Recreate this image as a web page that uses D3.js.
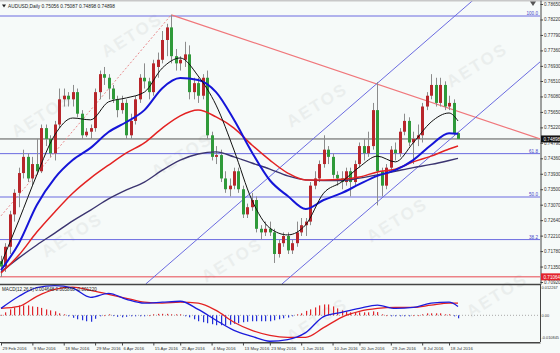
<!DOCTYPE html>
<html>
<head>
<meta charset="utf-8">
<script src="https://d3js.org/d3.v7.min.js"></script>
<style>
body { margin: 0; background: #fff; }
text { font-family: "Liberation Sans", Arial, sans-serif; }
</style>
</head>
<body>
<script>
// time axis labels and the bar they belong to (bar 0 = 29 Feb 2016)
var dateLabels = ["29 Feb 2016", "9 Mar 2016", "18 Mar 2016", "29 Mar 2016", "6 Apr 2016", "15 Apr 2016",
  "25 Apr 2016", "4 May 2016", "13 May 2016", "23 May 2016", "1 Jun 2016", "10 Jun 2016",
  "20 Jun 2016", "29 Jun 2016", "8 Jul 2016", "18 Jul 2016"];
var dateIdx = [0, 7, 14, 21, 27, 34, 40, 47, 54, 60, 67, 74, 80, 87, 94, 100];

// daily AUDUSD candles, in pips (price * 10000)
var opens = [7150,7135,7190,7280,7340,7395,7440,7380,7420,7400,
  7520,7490,7450,7530,7600,7610,7600,7620,7560,7500,
  7510,7520,7620,7670,7660,7630,7600,7570,7590,7500,
  7540,7600,7660,7650,7620,7690,7710,7765,7800,7720,
  7700,7710,7725,7620,7645,7610,7660,7500,7440,7445,
  7380,7350,7360,7400,7350,7280,7300,7320,7240,7230,
  7240,7230,7170,7200,7220,7180,7200,7230,7250,7260,
  7360,7380,7420,7460,7440,7390,7380,7370,7400,7370,
  7420,7470,7450,7470,7570,7400,7360,7410,7460,7450,
  7510,7540,7480,7490,7500,7580,7610,7640,7590,7640,
  7580,7590,7506];
var highs = [7165,7200,7290,7350,7410,7460,7450,7440,7490,7530,
  7530,7500,7540,7630,7630,7620,7640,7630,7570,7520,
  7530,7630,7680,7690,7670,7640,7610,7610,7600,7560,
  7610,7670,7700,7660,7710,7730,7790,7810,7835,7740,
  7720,7760,7750,7660,7660,7670,7680,7510,7470,7460,
  7400,7380,7410,7410,7360,7310,7340,7330,7250,7260,
  7260,7240,7210,7230,7230,7210,7260,7270,7270,7370,
  7400,7430,7500,7470,7450,7400,7400,7410,7410,7430,
  7480,7490,7510,7590,7648,7410,7420,7470,7480,7520,
  7560,7550,7510,7530,7590,7620,7670,7660,7660,7650,
  7610,7600,7509];
var lows = [7106,7120,7170,7260,7300,7380,7370,7360,7390,7395,
  7470,7440,7430,7520,7580,7580,7580,7550,7490,7495,
  7490,7510,7600,7640,7600,7590,7550,7560,7490,7490,
  7530,7590,7630,7600,7610,7660,7700,7720,7700,7680,
  7680,7690,7600,7600,7590,7600,7490,7430,7420,7370,
  7340,7330,7350,7340,7270,7270,7290,7230,7210,7220,
  7220,7145,7160,7190,7170,7170,7190,7220,7220,7250,
  7350,7370,7410,7420,7380,7360,7350,7360,7330,7360,
  7410,7430,7440,7460,7305,7330,7350,7400,7430,7440,
  7500,7470,7420,7470,7480,7570,7600,7580,7580,7570,
  7570,7500,7490];
var closes = [7135,7190,7280,7340,7395,7440,7380,7420,7400,7520,
  7490,7450,7530,7600,7610,7600,7620,7560,7500,7510,
  7520,7620,7670,7660,7630,7600,7570,7590,7500,7540,
  7600,7660,7650,7620,7700,7710,7765,7800,7720,7700,
  7710,7725,7620,7645,7610,7660,7500,7440,7445,7380,
  7350,7360,7400,7350,7280,7300,7320,7240,7230,7240,
  7230,7170,7200,7220,7180,7200,7230,7250,7260,7360,
  7380,7420,7460,7440,7390,7380,7370,7400,7370,7420,
  7470,7450,7470,7570,7400,7360,7410,7460,7450,7510,
  7540,7480,7490,7500,7580,7610,7640,7590,7640,7580,
  7590,7506,7490];

// moving averages every 4 bars (pips)
var maIdx = [0,4,8,12,16,20,24,28,32,36,40,44,48,52,56,60,64,68,72,76,80,84,88,92,96,100,102];
var maBlack = [7142,7264,7390,7501,7548,7543,7593,7604,7620,7687,7715,7665,7584,7459,7320,7242,7223,7251,7339,7370,7412,7442,7426,7479,7537,7562,7540];
var maBlue  = [7125,7200,7306,7381,7431,7465,7509,7537,7570,7631,7659,7654,7620,7543,7453,7375,7331,7295,7320,7339,7364,7387,7403,7431,7473,7506,7504];
var maRed   = [7117,7167,7231,7287,7339,7381,7417,7451,7479,7520,7554,7570,7551,7520,7473,7431,7395,7376,7376,7378,7384,7398,7406,7426,7442,7462,7470];
var maNavy  = [7120,7159,7195,7228,7262,7292,7323,7348,7370,7403,7431,7448,7454,7440,7423,7406,7387,7376,7374,7374,7381,7390,7400,7410,7419,7430,7436];

// MACD(12,26,9) in units of 0.0001, main + signal every 4 bars, histogram per bar
var macdMain   = [28,77,112,120,110,73,89,65,49,53,57,24,-20,-61,-85,-105,-98,-70,-5,12,28,41,28,32,49,53,36];
var macdSignal = [28,36,77,105,114,101,85,69,53,49,53,49,20,-28,-61,-81,-89,-89,-50,-8,16,28,32,32,41,49,49];
var macdHist = [2,12,24,32,40,40,40,36,34,30,
  24,20,16,8,4,-4,-10,-16,-20,-24,
  -26,-14,-4,0,4,-2,-6,-8,-6,-4,
  -4,-4,-4,0,4,6,6,6,4,4,
  4,-4,-8,-16,-24,-28,-32,-36,-40,-40,
  -40,-38,-34,-32,-28,-26,-24,-24,-24,-24,
  -24,-20,-16,-12,-9,-4,4,8,18,24,
  32,40,44,44,36,28,20,16,12,12,
  12,12,12,16,13,4,0,-4,-4,-4,
  -4,-4,0,0,4,8,8,8,8,4,
  4,-4,-12];

// price scale
var priceTicks = [0.78650,0.78220,0.77790,0.77360,0.76930,0.76510,0.76080,0.75650,0.75220,
  0.74790,0.74360,0.73930,0.73500,0.73070,0.72640,0.72210,0.71780,0.71350,0.70920];
var fibNames = ["100.0", "61.8", "50.0", "38.2"];
var fibPrices = [0.78317, 0.74490, 0.73284, 0.72100];
var redLevel = 0.71064;
var lastPrice = 0.74898;
var macdLabels = ["0.012267", "0.00", "-0.010845"];
var macdLabelVals = [0.012267, 0, -0.010845];

// drawn lines as [bar, price]
var redTrend = [[38, 0.7835], [120.3, 0.7490]];
var redDashed = [[0, 0.7276], [38, 0.7835]];
var channelA = [[32.3, 0.70865], [105.4, 0.7876]];
var channelB = [[62.7, 0.70865], [120.3, 0.7704]];

var W = 560, H = 353;
var svg = d3.select("body").append("svg")
  .attr("width", W)
  .attr("height", H);

svg.append("rect").attr("width", W).attr("height", H).attr("fill", "#f6faf9");

var x = d3.scaleLinear().domain([0, 120.3]).range([1, 540]);
var y = d3.scaleLinear().domain([0.70865, 0.78762]).range([284, 0]);
var yM = d3.scaleLinear().domain([-0.0108, 0.01227]).range([342, 285]);

svg.append("clipPath").attr("id", "mainClip")
  .append("rect").attr("x", 0).attr("y", 0).attr("width", 540).attr("height", 284);
svg.append("clipPath").attr("id", "macdClip")
  .append("rect").attr("x", 0).attr("y", 285).attr("width", 540).attr("height", 57);

// watermark
var marks = [[135, 40], [320, 110], [480, 70], [45, 120], [400, 225], [235, 265], [75, 240], [185, 160], [500, 300], [320, 325]];
svg.selectAll(".wm")
  .data(marks)
  .enter()
  .append("text")
    .attr("transform", function(d) { return "translate(" + d[0] + "," + d[1] + ")rotate(-32)"; })
    .attr("text-anchor", "middle")
    .style("font-size", "17px")
    .style("font-weight", "bold")
    .style("letter-spacing", "2px")
    .attr("fill", "#000")
    .attr("opacity", 0.045)
    .text("AETOS");

var main = svg.append("g").attr("clip-path", "url(#mainClip)");

// horizontal levels
main.selectAll(".fib")
  .data(fibPrices)
  .enter()
  .append("line")
    .attr("x1", 0).attr("x2", 540)
    .attr("y1", function(d) { return y(d); })
    .attr("y2", function(d) { return y(d); })
    .attr("stroke", "#6b6be0")
    .attr("stroke-width", 1);
main.append("line")
  .attr("x1", 0).attr("x2", 540)
  .attr("y1", y(redLevel)).attr("y2", y(redLevel))
  .attr("stroke", "#e8474f").attr("stroke-width", 1);
main.append("line")
  .attr("x1", 0).attr("x2", 540)
  .attr("y1", y(lastPrice)).attr("y2", y(lastPrice))
  .attr("stroke", "#555").attr("stroke-width", 1);

svg.selectAll(".fibtxt")
  .data(fibPrices)
  .enter()
  .append("text")
    .attr("x", 538)
    .attr("y", function(d) { return y(d) - 0.8; })
    .attr("text-anchor", "end")
    .style("font-size", "4.6px")
    .attr("fill", "#4646c8")
    .text(function(d, i) { return fibNames[i]; });

// trend lines
var seg = d3.line()
  .x(function(d) { return x(d[0]); })
  .y(function(d) { return y(d[1]); });
main.append("path").attr("d", seg(redTrend)).attr("fill", "none")
  .attr("stroke", "#f0777b").attr("stroke-width", 1.2);
main.append("path").attr("d", seg(redDashed)).attr("fill", "none")
  .attr("stroke", "#e98a8d").attr("stroke-width", 1).attr("stroke-dasharray", "2,2");
main.append("path").attr("d", seg(channelA)).attr("fill", "none")
  .attr("stroke", "#6b6be0").attr("stroke-width", 1);
main.append("path").attr("d", seg(channelB)).attr("fill", "none")
  .attr("stroke", "#6b6be0").attr("stroke-width", 1);

// candles
var bars = d3.range(opens.length);
main.selectAll(".wick")
  .data(bars)
  .enter()
  .append("line")
    .attr("x1", function(i) { return Math.round(x(i)) + 0.5; })
    .attr("x2", function(i) { return Math.round(x(i)) + 0.5; })
    .attr("y1", function(i) { return y(highs[i] / 10000); })
    .attr("y2", function(i) { return y(lows[i] / 10000); })
    .attr("stroke", "#8c8c8c")
    .attr("stroke-width", 1);
main.selectAll(".body")
  .data(bars)
  .enter()
  .append("rect")
    .attr("x", function(i) { return Math.round(x(i)) - 1; })
    .attr("width", 3)
    .attr("y", function(i) { return y(Math.max(opens[i], closes[i]) / 10000); })
    .attr("height", function(i) { return Math.max(1, Math.abs(y(opens[i] / 10000) - y(closes[i] / 10000))); })
    .attr("fill", function(i) { return closes[i] >= opens[i] ? "#b8262b" : "#2f9a3a"; });

// moving averages
function maLine(vals) {
  return d3.line()
    .x(function(d, i) { return x(maIdx[i]); })
    .y(function(d) { return y(d / 10000); })
    .curve(d3.curveMonotoneX)(vals);
}
main.append("path").attr("d", maLine(maNavy)).attr("fill", "none").attr("stroke", "#3b3470").attr("stroke-width", 1.4);
main.append("path").attr("d", maLine(maRed)).attr("fill", "none").attr("stroke", "#e32222").attr("stroke-width", 1.5);
main.append("path").attr("d", maLine(maBlue)).attr("fill", "none").attr("stroke", "#1515d8").attr("stroke-width", 2);
main.append("path").attr("d", maLine(maBlack)).attr("fill", "none").attr("stroke", "#111").attr("stroke-width", 1);

// MACD panel
var macd = svg.append("g").attr("clip-path", "url(#macdClip)");
macd.append("line")
  .attr("x1", 0).attr("x2", 540)
  .attr("y1", yM(0)).attr("y2", yM(0))
  .attr("stroke", "#aaa").attr("stroke-dasharray", "1,2");
macd.selectAll(".hist")
  .data(bars)
  .enter()
  .append("rect")
    .attr("x", function(i) { return Math.round(x(i)); })
    .attr("width", 1.2)
    .attr("y", function(i) { return Math.min(yM(0), yM(macdHist[i] / 10000)); })
    .attr("height", function(i) { return Math.max(0.8, Math.abs(yM(0) - yM(macdHist[i] / 10000))); })
    .attr("fill", function(i) { return macdHist[i] >= 0 ? "#e0262c" : "#2430d8"; });
function macdLine(vals) {
  return d3.line()
    .x(function(d, i) { return x(maIdx[i]); })
    .y(function(d) { return yM(d / 10000); })
    .curve(d3.curveMonotoneX)(vals);
}
macd.append("path").attr("d", macdLine(macdSignal)).attr("fill", "none").attr("stroke", "#e32222").attr("stroke-width", 1.3);
macd.append("path").attr("d", macdLine(macdMain)).attr("fill", "none").attr("stroke", "#1b1bdc").attr("stroke-width", 1.3);

// frame lines
svg.append("rect").attr("x", 0).attr("y", 0).attr("width", W).attr("height", 1.5).attr("fill", "#c8c8c8");
svg.append("line").attr("x1", 0).attr("x2", 540).attr("y1", 284.5).attr("y2", 284.5)
  .attr("stroke", "#444").attr("stroke-width", 1.6);
svg.append("line").attr("x1", 540.5).attr("x2", 540.5).attr("y1", 284).attr("y2", 342)
  .attr("stroke", "#444");

// price axis
var yAxis = svg.append("g")
  .attr("transform", "translate(540.5,0)")
  .call(d3.axisRight(y).tickValues(priceTicks).tickFormat(d3.format(".5f")).tickSize(2.5).tickSizeOuter(0));
yAxis.select(".domain").attr("stroke", "#444");
yAxis.selectAll("line").attr("stroke", "#444");
yAxis.selectAll("text").attr("x", 3.5).style("font-size", "4.6px").attr("fill", "#333").style("font-family", "Liberation Sans, Arial, sans-serif");

// price tags
function tag(val, fill) {
  svg.append("rect").attr("x", 541).attr("y", y(val) - 3.5).attr("width", 19).attr("height", 7).attr("fill", fill);
  svg.append("text").attr("x", 543.5).attr("y", y(val) + 1.7)
    .style("font-size", "4.6px").attr("fill", "#fff").text(d3.format(".5f")(val));
}
tag(lastPrice, "#111");
tag(redLevel, "#e3232c");

// MACD scale labels
svg.selectAll(".mtxt")
  .data(macdLabelVals)
  .enter()
  .append("text")
    .attr("x", 541.5)
    .attr("y", function(d) { return Math.min(339, Math.max(289, yM(d) + 1.6)); })
    .style("font-size", "3.9px")
    .attr("fill", "#333")
    .text(function(d, i) { return macdLabels[i]; });

// time axis
var xAxis = svg.append("g")
  .attr("transform", "translate(0,342.5)")
  .call(d3.axisBottom(x).tickValues(dateIdx).tickFormat(function(d, i) { return dateLabels[i]; }).tickSize(3).tickSizeOuter(0));
xAxis.select(".domain").attr("stroke", "#444");
xAxis.selectAll("line").attr("stroke", "#444");
xAxis.selectAll("text")
  .attr("y", 4)
  .attr("dy", "0.71em")
  .attr("x", 1)
  .style("text-anchor", "start")
  .style("font-size", "4.3px")
  .style("font-family", "Liberation Sans, Arial, sans-serif")
  .attr("fill", "#333");
svg.append("line").attr("x1", 0).attr("x2", 540).attr("y1", 342.5).attr("y2", 342.5).attr("stroke", "#444");

// titles
svg.append("path").attr("d", "M2,4.5 L6,4.5 L4,7.5 Z").attr("fill", "#222");
svg.append("text").attr("x", 8).attr("y", 7.5)
  .style("font-size", "4.8px").attr("fill", "#222")
  .text("AUDUSD,Daily  0.75056 0.75087 0.74898 0.74898");
svg.append("text").attr("x", 2).attr("y", 291)
  .style("font-size", "4.6px").attr("fill", "#222")
  .text("MACD(12,26,9) 0.004648 0.005868 -0.001220");

// chart shift marker
svg.append("path").attr("d", "M530,1.5 L536,1.5 L533,6 Z").attr("fill", "#555");
</script>
</body>
</html>
